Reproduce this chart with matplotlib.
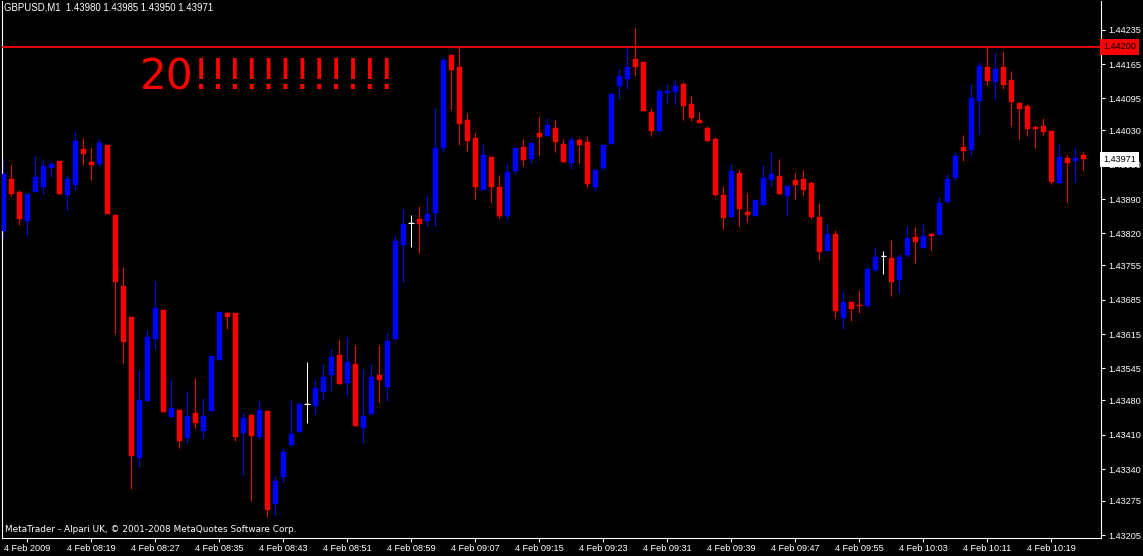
import matplotlib
matplotlib.use("Agg")
import matplotlib.pyplot as plt
import numpy as np
from matplotlib.transforms import blended_transform_factory

# GBPUSD M1 candles, 4 Feb 2009 08:08 - 10:23
open_ = [
    1.43825, 1.43930, 1.43904, 1.43845, 1.43905, 1.43914, 1.43953, 1.43967, 1.43898, 1.43918,
    1.43991, 1.43965, 1.43962, 1.44000, 1.43857, 1.43712, 1.43649, 1.43363, 1.43479, 1.43605,
    1.43664, 1.43446, 1.43460, 1.43403, 1.43454, 1.43418, 1.43458, 1.43562, 1.43657, 1.43657,
    1.43414, 1.43450, 1.43405, 1.43458, 1.43269, 1.43323, 1.43389, 1.43416, 1.43472, 1.43469,
    1.43497, 1.43531, 1.43572, 1.43515, 1.43554, 1.43423, 1.43452, 1.43531, 1.43507, 1.43605,
    1.43796, 1.43842, 1.43849, 1.43845, 1.43861, 1.43994, 1.44183, 1.44159, 1.44051, 1.44014,
    1.43909, 1.43975, 1.43914, 1.43856, 1.43947, 1.43996, 1.43972, 1.44024, 1.44019, 1.44034,
    1.44002, 1.43964, 1.44010, 1.44006, 1.43915, 1.43954, 1.44002, 1.44120, 1.44135, 1.44175,
    1.44169, 1.44067, 1.44029, 1.44106, 1.44108, 1.44124, 1.44083, 1.44051, 1.44034, 1.44012,
    1.43898, 1.43853, 1.43943, 1.43863, 1.43856, 1.43878, 1.43929, 1.43937, 1.43896, 1.43928,
    1.43930, 1.43922, 1.43853, 1.43784, 1.43818, 1.43648, 1.43680, 1.43674, 1.43672, 1.43746,
    1.43774, 1.43770, 1.43725, 1.43776, 1.43812, 1.43790, 1.43818, 1.43817, 1.43884, 1.43933,
    1.43996, 1.43990, 1.44089, 1.44159, 1.44129, 1.44159, 1.44132, 1.44085, 1.44079, 1.44036,
    1.44038, 1.44028, 1.43923, 1.43973, 1.43968, 1.43980,
]
high = [
    1.43971, 1.43959, 1.43908, 1.43900, 1.43977, 1.43969, 1.43966, 1.43967, 1.43938, 1.44028,
    1.44014, 1.43994, 1.44012, 1.44000, 1.43858, 1.43751, 1.43649, 1.43541, 1.43623, 1.43723,
    1.43664, 1.43523, 1.43462, 1.43499, 1.43525, 1.43484, 1.43570, 1.43662, 1.43659, 1.43657,
    1.43454, 1.43450, 1.43478, 1.43458, 1.43325, 1.43382, 1.43480, 1.43474, 1.43558, 1.43523,
    1.43554, 1.43584, 1.43602, 1.43609, 1.43592, 1.43543, 1.43554, 1.43592, 1.43617, 1.43816,
    1.43869, 1.43857, 1.43875, 1.43898, 1.44075, 1.44177, 1.44183, 1.44200, 1.44065, 1.44024,
    1.44002, 1.43975, 1.43938, 1.43963, 1.43994, 1.44012, 1.44006, 1.44057, 1.44055, 1.44051,
    1.44012, 1.44016, 1.44014, 1.44018, 1.43951, 1.44000, 1.44104, 1.44154, 1.44197, 1.44238,
    1.44169, 1.44075, 1.44114, 1.44124, 1.44132, 1.44128, 1.44099, 1.44067, 1.44038, 1.44016,
    1.43916, 1.43961, 1.43951, 1.43902, 1.43888, 1.43959, 1.43985, 1.43971, 1.43916, 1.43943,
    1.43949, 1.43926, 1.43882, 1.43839, 1.43827, 1.43702, 1.43680, 1.43704, 1.43751, 1.43792,
    1.43784, 1.43806, 1.43778, 1.43835, 1.43833, 1.43839, 1.43820, 1.43894, 1.43941, 1.43985,
    1.44020, 1.44124, 1.44169, 1.44200, 1.44187, 1.44189, 1.44150, 1.44085, 1.44083, 1.44040,
    1.44055, 1.44028, 1.44002, 1.43979, 1.43996, 1.43985,
]
low = [
    1.43811, 1.43896, 1.43837, 1.43815, 1.43905, 1.43900, 1.43934, 1.43900, 1.43868, 1.43908,
    1.43959, 1.43928, 1.43958, 1.43860, 1.43615, 1.43556, 1.43299, 1.43344, 1.43479, 1.43585,
    1.43456, 1.43446, 1.43383, 1.43391, 1.43424, 1.43403, 1.43458, 1.43562, 1.43625, 1.43397,
    1.43328, 1.43275, 1.43401, 1.43243, 1.43246, 1.43313, 1.43387, 1.43416, 1.43433, 1.43452,
    1.43480, 1.43499, 1.43513, 1.43488, 1.43427, 1.43393, 1.43452, 1.43476, 1.43478, 1.43602,
    1.43721, 1.43792, 1.43780, 1.43835, 1.43835, 1.43986, 1.44071, 1.44000, 1.43988, 1.43890,
    1.43909, 1.43884, 1.43852, 1.43848, 1.43941, 1.43958, 1.43964, 1.43980, 1.44019, 1.43986,
    1.43966, 1.43951, 1.43964, 1.43915, 1.43907, 1.43949, 1.44002, 1.44094, 1.44114, 1.44143,
    1.44069, 1.44019, 1.44027, 1.44084, 1.44084, 1.44051, 1.44049, 1.44045, 1.44008, 1.43896,
    1.43829, 1.43853, 1.43835, 1.43843, 1.43856, 1.43878, 1.43917, 1.43900, 1.43856, 1.43890,
    1.43898, 1.43850, 1.43766, 1.43784, 1.43648, 1.43625, 1.43642, 1.43658, 1.43672, 1.43742,
    1.43738, 1.43693, 1.43699, 1.43772, 1.43760, 1.43790, 1.43786, 1.43817, 1.43884, 1.43927,
    1.43968, 1.43978, 1.44023, 1.44122, 1.44092, 1.44114, 1.44039, 1.44012, 1.44019, 1.43994,
    1.44021, 1.43921, 1.43923, 1.43884, 1.43925, 1.43950,
]
close = [
    1.43941, 1.43900, 1.43850, 1.43900, 1.43934, 1.43957, 1.43961, 1.43900, 1.43930, 1.44008,
    1.43982, 1.43960, 1.44004, 1.43860, 1.43721, 1.43599, 1.43367, 1.43480, 1.43609, 1.43668,
    1.43456, 1.43464, 1.43397, 1.43449, 1.43434, 1.43449, 1.43570, 1.43659, 1.43650, 1.43405,
    1.43444, 1.43408, 1.43460, 1.43257, 1.43315, 1.43374, 1.43411, 1.43472, 1.43472, 1.43505,
    1.43527, 1.43568, 1.43513, 1.43558, 1.43427, 1.43448, 1.43527, 1.43521, 1.43600, 1.43804,
    1.43839, 1.43842, 1.43839, 1.43859, 1.43994, 1.44173, 1.44152, 1.44043, 1.44008, 1.43915,
    1.43979, 1.43915, 1.43856, 1.43945, 1.43994, 1.43970, 1.44004, 1.44016, 1.44040, 1.44006,
    1.43966, 1.44010, 1.44000, 1.43921, 1.43949, 1.44000, 1.44104, 1.44140, 1.44159, 1.44159,
    1.44069, 1.44029, 1.44110, 1.44110, 1.44120, 1.44080, 1.44055, 1.44045, 1.44008, 1.43898,
    1.43852, 1.43947, 1.43870, 1.43858, 1.43888, 1.43932, 1.43941, 1.43900, 1.43916, 1.43919,
    1.43909, 1.43854, 1.43782, 1.43818, 1.43662, 1.43680, 1.43666, 1.43672, 1.43747, 1.43772,
    1.43774, 1.43721, 1.43772, 1.43810, 1.43803, 1.43814, 1.43815, 1.43882, 1.43930, 1.43977,
    1.43988, 1.44095, 1.44161, 1.44131, 1.44154, 1.44122, 1.44088, 1.44074, 1.44033, 1.44033,
    1.44027, 1.43924, 1.43975, 1.43963, 1.43973, 1.43971,
]

time_labels = [
    "4 Feb 2009", "4 Feb 08:19", "4 Feb 08:27", "4 Feb 08:35", "4 Feb 08:43", "4 Feb 08:51",
    "4 Feb 08:59", "4 Feb 09:07", "4 Feb 09:15", "4 Feb 09:23", "4 Feb 09:31", "4 Feb 09:39",
    "4 Feb 09:47", "4 Feb 09:55", "4 Feb 10:03", "4 Feb 10:11", "4 Feb 10:19",
]
first_label_bar = 3
label_step = 8

price_ticks = [
    1.44235, 1.44165, 1.44095, 1.44030, 1.43960, 1.43890, 1.43820, 1.43755,
    1.43685, 1.43615, 1.43545, 1.43480, 1.43410, 1.43340, 1.43275, 1.43205,
]
level_price = 1.44200
note_text = "20!!!!!!!!!!!!"

BULL = "#0000ff"
BEAR = "#ff0000"
FG = "#ffffff"
W, H = 1143, 556

fig = plt.figure(figsize=(W / 100, H / 100), dpi=100, facecolor="black")
# plot area: x 2..1101 px, y 1..538 px (from top)
ax = fig.add_axes([2 / W, (H - 538) / H, 1099 / W, 537 / H])
ax.set_facecolor("black")

o, h, l, c = (np.array(v) for v in (open_, high, low, close))
x = np.arange(len(o))
colors = np.where(c > o, BULL, np.where(c < o, BEAR, FG))

ax.vlines(x, l, h, colors=colors, linewidth=0.75, zorder=2)
ax.bar(x, np.abs(c - o), width=0.6, bottom=np.minimum(o, c), color=colors,
       edgecolor=colors, linewidth=0.3, zorder=3)
doji = o == c
ax.hlines(o[doji], x[doji] - 0.35, x[doji] + 0.35, colors=FG, linewidth=0.75, zorder=3)

ax.axhline(level_price, color=BEAR, linewidth=1.3, zorder=4)

ax.set_xlim(-0.16, 137.21)
ax.set_ylim(1.431995, 1.442934)

for side in ("left", "right", "bottom"):
    ax.spines[side].set_color(FG)
    ax.spines[side].set_linewidth(0.8)
ax.spines["top"].set_visible(False)

font = "Liberation Sans"
ax.yaxis.tick_right()
ax.set_yticks(price_ticks)
ax.set_yticklabels([f"{p:.5f}" for p in price_ticks], family=font)
ax.tick_params(axis="y", colors=FG, length=3, width=0.8, labelsize=6.6, pad=2)

label_pos = [first_label_bar + label_step * i for i in range(len(time_labels))]
ax.set_xticks(label_pos)
ax.set_xticklabels(time_labels, family=font)
ax.tick_params(axis="x", colors=FG, length=3, width=0.8, labelsize=6.6, pad=1)

trans = blended_transform_factory(ax.transAxes, ax.transData)
ax.text(1.002, level_price, f"{level_price:.5f}", transform=trans, ha="left", va="center",
        fontsize=6.6, family=font, color="black", clip_on=False, zorder=10,
        bbox=dict(boxstyle="square,pad=0.35", fc=BEAR, ec="none"))
ax.text(1.002, close[-1], f"{close[-1]:.5f}", transform=trans, ha="left", va="center",
        fontsize=6.6, family=font, color="black", clip_on=False, zorder=10,
        bbox=dict(boxstyle="square,pad=0.35", fc=FG, ec="none"))

fig.text(4 / W, 1 - 8 / H,
         f"GBPUSD,M1  {open_[-1]:.5f} {high[-1]:.5f} {low[-1]:.5f} {close[-1]:.5f}",
         color=FG, fontsize=6.9, family=font, va="center", ha="left")
fig.text(5 / W, 1 - 530 / H,
         "MetaTrader - Alpari UK, \u00a9 2001-2008 MetaQuotes Software Corp.",
         color=FG, fontsize=6.4, family="DejaVu Sans", va="center", ha="left")
fig.text(140 / W, 1 - 89 / H, note_text, color=BEAR, fontsize=30.3,
         family="DejaVu Sans", va="baseline", ha="left")

fig.savefig("out.png", dpi=100, facecolor="black")
